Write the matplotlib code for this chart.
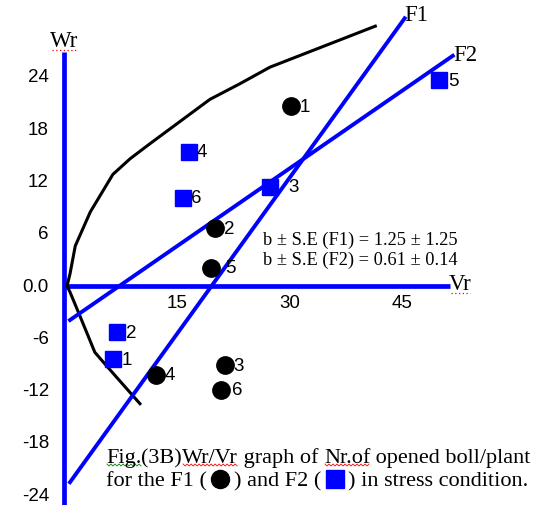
import matplotlib
matplotlib.use("Agg")
import matplotlib.pyplot as plt
from matplotlib.transforms import IdentityTransform
import numpy as np

# Wr / Vr of the six parents, F1 and F2 generations
parents = ["1", "2", "3", "4", "5", "6"]
f1_vr = [30.2, 20.1, 21.4, 12.2, 19.5, 20.9]
f1_wr = [20.6, 6.65, -9.1, -10.2, 2.1, -11.9]
f2_vr = [6.5, 7.0, 27.4, 16.6, 49.9, 15.8]
f2_wr = [-8.4, -5.3, 11.4, 15.4, 23.6, 10.1]

# regression lines (end points)
f1_line_vr = [0.8, 45.3]
f1_line_wr = [-22.5, 30.7]
f2_line_vr = [0.8, 51.7]
f2_line_wr = [-3.9, 26.4]

# limiting parabola
parab_vr = [10.1, 5.7, 4.1, 2.1, 0.8, 0.4, 0.8, 1.5, 3.5, 6.5, 8.8, 11.4, 19.4, 23.4, 27.4, 41.4]
parab_wr = [-13.5, -9.2, -7.6, -3.4, -0.7, 0.0, 1.4, 4.6, 8.5, 12.8, 14.6, 16.3, 21.4, 23.2, 25.1, 29.8]

wr_ticks = [24, 18, 12, 6, 0, -6, -12, -18, -24]
wr_labels = ["24", "18", "12", "6", "0.0", "-6", "-12", "-18", "-24"]
vr_ticks = [15, 30, 45]

b_text = ["b \u00b1 S.E (F1) = 1.25 \u00b1 1.25",
          "b \u00b1 S.E (F2) = 0.61 \u00b1 0.14"]

BLUE = "#0000ff"
SERIF = ["Liberation Serif", "DejaVu Serif"]
SANS = ["Liberation Sans", "DejaVu Sans"]

W, H = 544, 506
X0, SX = 64, 7.52     # pixel of Vr=0, pixels per unit
Y0, SY = 287, 8.72    # pixel row of Wr=0, pixels per unit

fig = plt.figure(figsize=(W / 100, H / 100), dpi=100)
ax = fig.add_axes([0, 0, 1, 1])
ax.set_xlim(-X0 / SX, (W - X0) / SX)
ax.set_ylim(-(H - Y0) / SY, Y0 / SY)
ax.axis("off")

# hand-drawn axes
ax.plot([0, 0], [-30, 26.8], color=BLUE, lw=3.4, solid_capstyle="butt", zorder=2)
ax.plot([0, 51.3], [0, 0], color=BLUE, lw=3.4, solid_capstyle="butt", zorder=2)

ax.plot(parab_vr, parab_wr, color="black", lw=2.2, zorder=3)
ax.plot(f1_line_vr, f1_line_wr, color=BLUE, lw=2.8, zorder=3)
ax.plot(f2_line_vr, f2_line_wr, color=BLUE, lw=2.8, zorder=3)

ax.plot(f1_vr, f1_wr, "o", color="black", ms=12.5, zorder=4)
ax.plot(f2_vr, f2_wr, "s", color=BLUE, ms=12, mec=BLUE, zorder=4)

f1_gap = [9, 9, 8, 9, 15, 11]
f2_gap = [9, 9, 18, 8, 9, 8]
for p, x, y, g in zip(parents, f1_vr, f1_wr, f1_gap):
    ax.annotate(p, (x, y), xytext=(g, 0), textcoords="offset pixels",
                ha="left", va="center", fontsize=13.5, family=SANS)
for p, x, y, g in zip(parents, f2_vr, f2_wr, f2_gap):
    ax.annotate(p, (x, y), xytext=(g, 0), textcoords="offset pixels",
                ha="left", va="center", fontsize=13.5, family=SANS)

for t, lab in zip(wr_ticks, wr_labels):
    ax.text(-2.0, t, lab, ha="right", va="center", fontsize=13.5, family=SANS)
for t in vr_ticks:
    ax.text(t, -1.9, str(t), ha="center", va="center", fontsize=13.5, family=SANS)

ser = dict(family=SERIF, fontsize=16.5)
wr_t = ax.text(0, 28.2, "Wr", ha="center", va="center", **ser)
vr_t = ax.text(51.2, 0.3, "Vr", ha="left", va="center", **ser)
ax.text(45.3, 31.1, "F1", ha="left", va="center", **ser)
ax.text(51.8, 26.6, "F2", ha="left", va="center", **ser)

ax.text(26.4, 5.3, b_text[0], ha="left", va="center", family=SERIF, fontsize=13.2)
ax.text(26.4, 3.1, b_text[1], ha="left", va="center", family=SERIF, fontsize=13.2)

rend = fig.canvas.get_renderer()


def squiggle(x0, x1, y, color):
    xs = np.arange(x0, x1 + 1, 2.0)
    ys = y + np.where(np.arange(len(xs)) % 2 == 0, 1.0, -1.0)
    ax.add_line(plt.Line2D(xs, ys, color=color, lw=0.6, transform=IdentityTransform()))


def dots(t):
    bb = t.get_window_extent(rend)
    ax.add_line(plt.Line2D([bb.x0 + 2, bb.x1 - 2], [bb.y0 + 1, bb.y0 + 1], color="red",
                           lw=0.9, ls=(0, (1, 2)), transform=IdentityTransform()))


dots(wr_t)
dots(vr_t)

# caption, written piece by piece; "o"/"s" pieces are key markers
cap = dict(family=SERIF, fontsize=16)
lines = [
    [("Fig.", "green"), ("(3B)", None), ("Wr/Vr", "red"),
     (" graph of ", None), ("Nr.of", "red"), (" opened boll/plant", None)],
    [("for the F1 (", None), ("o", None), (") and F2 (", None),
     ("s", None), (") in stress condition.", None)],
]
baselines = [H - 463, H - 486]
for pieces, yb in zip(lines, baselines):
    x = 106
    for s, wave in pieces:
        if s in ("o", "s"):
            ax.plot([x + 13.5], [yb + 6], s, color="black" if s == "o" else BLUE,
                    ms=13 if s == "o" else 12.5, transform=IdentityTransform(), zorder=4)
            x += 27
            continue
        t = ax.text(x, yb, s, transform=IdentityTransform(),
                    ha="left", va="baseline", **cap)
        bb = t.get_window_extent(rend)
        if wave:
            squiggle(bb.x0 + 1, bb.x1 - 1, yb - 3, wave)
        x = bb.x1

fig.savefig("out.png", dpi=100)
